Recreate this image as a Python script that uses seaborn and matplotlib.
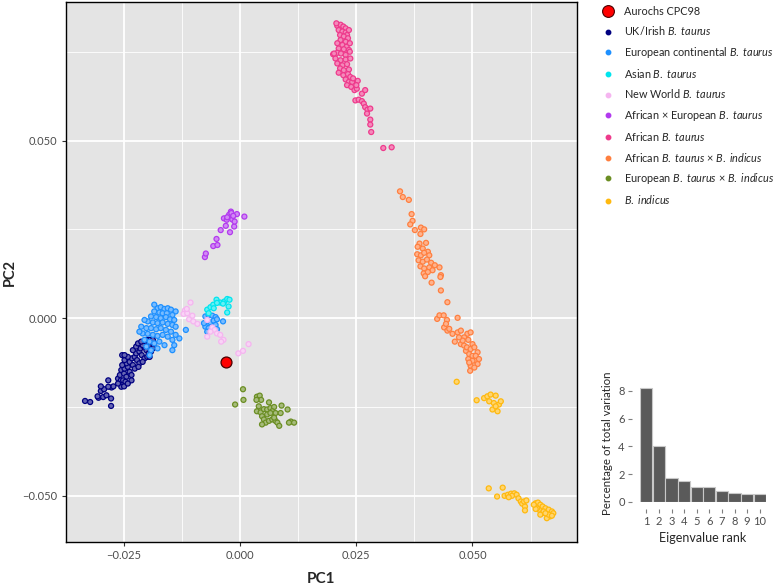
import numpy as np
import pandas as pd
import matplotlib
matplotlib.use("Agg")
import matplotlib.pyplot as plt
import seaborn as sns
from matplotlib.lines import Line2D

# ---------------- data ----------------
uk_x = [-0.0334, -0.0323, -0.0305, -0.0300, -0.0284, -0.0293, -0.0277, -0.0273, -0.0278, -0.0278,
        -0.0295, -0.0288, -0.0300, -0.0307, -0.0284,
        -0.0263, -0.0257, -0.0252, -0.0259, -0.0256, -0.0250, -0.0245, -0.0249, -0.0242, -0.0238,
        -0.0234, -0.0245, -0.0238, -0.0231, -0.0227, -0.0233, -0.0227, -0.0222, -0.0217, -0.0224,
        -0.0217, -0.0212, -0.0206, -0.0215, -0.0207, -0.0202, -0.0197, -0.0206, -0.0199, -0.0193,
        -0.0188, -0.0195, -0.0190, -0.0185, -0.0231, -0.0224, -0.0254, -0.0249, -0.0242, -0.0252,
        -0.0247, -0.0256, -0.0250, -0.0263, -0.0234, -0.0242, -0.0254, -0.0219, -0.0210, -0.0200,
        -0.0192, -0.0188, -0.0202, -0.0210, -0.0220, -0.0213, -0.0195, -0.0249]
uk_y = [-0.0233, -0.0236, -0.0224, -0.0205, -0.0175, -0.0200, -0.0195, -0.0192, -0.0226, -0.0247,
        -0.0222, -0.0217, -0.0192, -0.0220, -0.0193,
        -0.0170, -0.0175, -0.0184, -0.0160, -0.0146, -0.0156, -0.0165, -0.0142, -0.0137, -0.0151,
        -0.0160, -0.0127, -0.0123, -0.0132, -0.0142, -0.0113, -0.0109, -0.0118, -0.0127, -0.0099,
        -0.0094, -0.0104, -0.0113, -0.0085, -0.0080, -0.0090, -0.0099, -0.0071, -0.0066, -0.0076,
        -0.0085, -0.0061, -0.0069, -0.0071, -0.0090, -0.0080, -0.0104, -0.0118, -0.0109, -0.0175,
        -0.0179, -0.0193, -0.0192, -0.0184, -0.0175, -0.0184, -0.0132, -0.0137, -0.0123, -0.0109,
        -0.0094, -0.0061, -0.0061, -0.0076, -0.0071, -0.0066, -0.0109, -0.0104]

eu_x = [-0.0178, -0.0171, -0.0163, -0.0156, -0.0149, -0.0139, -0.0185, -0.0174, -0.0167, -0.0158,
        -0.0146, -0.0192, -0.0181, -0.0171, -0.0160, -0.0151, -0.0142, -0.0199, -0.0188, -0.0178,
        -0.0167, -0.0156, -0.0146, -0.0139, -0.0213, -0.0202, -0.0192, -0.0181, -0.0171, -0.0160,
        -0.0149, -0.0139, -0.0131, -0.0210, -0.0199, -0.0188, -0.0178, -0.0167, -0.0156, -0.0146,
        -0.0206, -0.0195, -0.0185, -0.0174, -0.0163, -0.0142, -0.0202, -0.0192, -0.0178, -0.0146,
        -0.0117, -0.0217, -0.0195, -0.0206, -0.0185,
        -0.0075, -0.0068, -0.0060, -0.0053, -0.0071, -0.0064, -0.0057, -0.0050, -0.0075, -0.0068,
        -0.0060, -0.0053, -0.0071, -0.0078, -0.0037, -0.0050]
eu_y = [0.0028, 0.0031, 0.0026, 0.0028, 0.0024, 0.0019, 0.0019, 0.0016, 0.0014, 0.0014,
        0.0009, 0.0005, 0.0003, 0.0000, 0.0003, -0.0003, -0.0005, -0.0009, -0.0012, -0.0014,
        -0.0012, -0.0016, -0.0019, -0.0024, -0.0024, -0.0028, -0.0028, -0.0031, -0.0028, -0.0033,
        -0.0038, -0.0047, -0.0057, -0.0043, -0.0044, -0.0047, -0.0050, -0.0047, -0.0052, -0.0061,
        -0.0061, -0.0066, -0.0071, -0.0066, -0.0076, -0.0076, -0.0080, -0.0090, -0.0085, -0.0090,
        -0.0033, -0.0038, -0.0104, -0.0005, 0.0038,
        0.0005, 0.0009, 0.0007, 0.0003, -0.0009, -0.0012, -0.0007, -0.0003, -0.0024, -0.0028,
        -0.0024, -0.0019, -0.0038, -0.0014, -0.0009, -0.0031]

asia_x = [-0.0071, -0.0064, -0.0058, -0.0051, -0.0043, -0.0034, -0.0028, -0.0023, -0.0025, -0.0028,
          -0.0068, -0.0057, -0.0037, -0.0050]
asia_y = [0.0024, 0.0031, 0.0038, 0.0052, 0.0044, 0.0047, 0.0054, 0.0052, 0.0033, 0.0016,
          0.0014, 0.0028, 0.0041, 0.0043]

nw_x = [-0.0107, -0.0119, -0.0122, -0.0114, -0.0110, -0.0101, -0.0092, -0.0071, -0.0060, -0.0055,
        -0.0050, -0.0043, -0.0036, -0.0041, -0.0071, -0.0004, 0.0006, 0.0018, -0.0064, -0.0103,
        -0.0115]
nw_y = [0.0044, 0.0022, 0.0012, 0.0014, -0.0003, -0.0009, -0.0016, -0.0005, -0.0026, -0.0033,
        -0.0043, -0.0047, -0.0061, -0.0066, -0.0052, -0.0099, -0.0092, -0.0073, -0.0038, 0.0007,
        0.0026]

afeu_x = [-0.0076, -0.0074, -0.0058, -0.0049, -0.0051, -0.0042, -0.0022, -0.0031, -0.0013, 0.0009,
          -0.0007, -0.0020, -0.0024, -0.0035, -0.0029, -0.0017, -0.0019, -0.0028, -0.0015, -0.0012]
afeu_y = [0.0172, 0.0182, 0.0203, 0.0206, 0.0223, 0.0248, 0.0242, 0.0260, 0.0258, 0.0286,
          0.0293, 0.0300, 0.0291, 0.0281, 0.0277, 0.0278, 0.0296, 0.0284, 0.0288, 0.0272]

af_x = [0.0209, 0.0216, 0.0222, 0.0227, 0.0212, 0.0220, 0.0227, 0.0230, 0.0215, 0.0223,
        0.0232, 0.0216, 0.0227, 0.0209, 0.0220, 0.0229, 0.0212, 0.0223, 0.0234, 0.0200,
        0.0209, 0.0217, 0.0227, 0.0236, 0.0205, 0.0216, 0.0227, 0.0237, 0.0209, 0.0220,
        0.0230, 0.0215, 0.0223, 0.0234, 0.0212, 0.0222, 0.0232, 0.0237, 0.0227, 0.0234,
        0.0241, 0.0230, 0.0239, 0.0246, 0.0251, 0.0253, 0.0262, 0.0269, 0.0248, 0.0255,
        0.0262, 0.0266, 0.0269, 0.0274, 0.0280, 0.0273, 0.0280, 0.0280, 0.0282, 0.0308,
        0.0326, 0.0207, 0.0234, 0.0236, 0.0202, 0.0243, 0.0250]
af_y = [0.0823, 0.0826, 0.0821, 0.0816, 0.0811, 0.0807, 0.0804, 0.0797, 0.0797, 0.0793,
        0.0788, 0.0783, 0.0778, 0.0774, 0.0769, 0.0764, 0.0759, 0.0757, 0.0755, 0.0743,
        0.0747, 0.0745, 0.0741, 0.0750, 0.0731, 0.0726, 0.0728, 0.0731, 0.0717, 0.0712,
        0.0715, 0.0703, 0.0698, 0.0700, 0.0691, 0.0684, 0.0687, 0.0679, 0.0672, 0.0665,
        0.0665, 0.0656, 0.0651, 0.0642, 0.0646, 0.0668, 0.0632, 0.0642, 0.0613, 0.0615,
        0.0611, 0.0604, 0.0594, 0.0587, 0.0590, 0.0576, 0.0559, 0.0545, 0.0524, 0.0479,
        0.0481, 0.0830, 0.0811, 0.0774, 0.0745, 0.0675, 0.0656]

afin_x = [0.0344, 0.0350, 0.0363, 0.0369, 0.0371, 0.0366, 0.0376, 0.0389, 0.0396, 0.0388,
          0.0386, 0.0400, 0.0382, 0.0393, 0.0404, 0.0381, 0.0389, 0.0396, 0.0407, 0.0384,
          0.0393, 0.0402, 0.0411, 0.0419, 0.0388, 0.0396, 0.0407, 0.0414, 0.0395, 0.0404,
          0.0398, 0.0429, 0.0432, 0.0431, 0.0412, 0.0432, 0.0446, 0.0424, 0.0429, 0.0438,
          0.0445, 0.0468, 0.0439, 0.0446, 0.0457, 0.0468, 0.0475, 0.0489, 0.0496, 0.0462,
          0.0475, 0.0482, 0.0486, 0.0493, 0.0500, 0.0511, 0.0507, 0.0511, 0.0496, 0.0495,
          0.0504, 0.0482, 0.0491, 0.0500, 0.0488, 0.0496, 0.0504, 0.0491, 0.0500, 0.0507,
          0.0514, 0.0493, 0.0450, 0.0443, 0.0479, 0.0471]
afin_y = [0.0357, 0.0341, 0.0333, 0.0293, 0.0274, 0.0264, 0.0248, 0.0255, 0.0250, 0.0237,
          0.0210, 0.0212, 0.0201, 0.0196, 0.0187, 0.0180, 0.0177, 0.0184, 0.0177, 0.0163,
          0.0159, 0.0165, 0.0156, 0.0149, 0.0146, 0.0140, 0.0143, 0.0135, 0.0126, 0.0130,
          0.0118, 0.0143, 0.0121, 0.0116, 0.0100, 0.0078, 0.0045, -0.0002, 0.0008, 0.0008,
          -0.0005, 0.0001, -0.0026, -0.0035, -0.0044, -0.0040, -0.0035, -0.0044, -0.0040, -0.0066,
          -0.0073, -0.0077, -0.0092, -0.0101, -0.0106, -0.0096, -0.0120, -0.0129, -0.0134, -0.0148,
          -0.0139, -0.0054, -0.0061, -0.0073, -0.0082, -0.0087, -0.0082, -0.0115, -0.0120, -0.0106,
          -0.0115, -0.0125, -0.0030, -0.0016, -0.0063, -0.0054]

euin_x = [0.0006, -0.0011, 0.0007, 0.0036, 0.0042, 0.0045, 0.0035, 0.0062, 0.0089, 0.0102,
          0.0036, 0.0044, 0.0051, 0.0058, 0.0065, 0.0073, 0.0069, 0.0076, 0.0087, 0.0047,
          0.0051, 0.0055, 0.0047, 0.0062, 0.0069, 0.0076, 0.0080, 0.0084, 0.0073, 0.0109,
          0.0105, 0.0116, 0.0058, 0.0040, 0.0065]
euin_y = [-0.0200, -0.0243, -0.0230, -0.0221, -0.0218, -0.0230, -0.0230, -0.0237, -0.0246, -0.0257,
          -0.0262, -0.0265, -0.0256, -0.0257, -0.0253, -0.0250, -0.0262, -0.0267, -0.0267, -0.0276,
          -0.0285, -0.0294, -0.0299, -0.0289, -0.0285, -0.0289, -0.0294, -0.0303, -0.0280, -0.0291,
          -0.0294, -0.0294, -0.0271, -0.0248, -0.0267]

ind_x = [0.0466,
         0.0509, 0.0525, 0.0532, 0.0539, 0.0550, 0.0536, 0.0546, 0.0557, 0.0561, 0.0543,
         0.0554, 0.0550,
         0.0535, 0.0565, 0.0553, 0.0569, 0.0576, 0.0583, 0.0590, 0.0595, 0.0599, 0.0604,
         0.0607, 0.0613, 0.0611, 0.0616, 0.0613, 0.0636, 0.0641, 0.0646, 0.0651, 0.0657,
         0.0664, 0.0671, 0.0674, 0.0667, 0.0660, 0.0650, 0.0643, 0.0639, 0.0653, 0.0664,
         0.0636, 0.0646, 0.0657, 0.0671, 0.0632, 0.0585, 0.0578]
ind_y = [-0.0179,
         -0.0231, -0.0225, -0.0220, -0.0215, -0.0218, -0.0234, -0.0239, -0.0243, -0.0234, -0.0257,
         -0.0262, -0.0248,
         -0.0479, -0.0477, -0.0502, -0.0500, -0.0497, -0.0494, -0.0493, -0.0497, -0.0507, -0.0516,
         -0.0522, -0.0530, -0.0516, -0.0513, -0.0541, -0.0521, -0.0519, -0.0525, -0.0530, -0.0535,
         -0.0539, -0.0544, -0.0549, -0.0558, -0.0563, -0.0549, -0.0539, -0.0535, -0.0544, -0.0553,
         -0.0537, -0.0553, -0.0549, -0.0556, -0.0525, -0.0500, -0.0504]

aurochs_x = [-0.0030]
aurochs_y = [-0.0122]

groups = ["UK/Irish", "European continental", "Asian", "New World", "African x European",
          "African", "African x indicus", "European x indicus", "indicus"]
colors = ["#000080", "#1E90FF", "#00E5EE", "#F5B5F0", "#B23AEE",
          "#EE3A8C", "#FF7F3F", "#6B8E23", "#FFB90F"]
legend_labels = [
    r"UK/Irish $\mathit{B.\ taurus}$",
    r"European continental $\mathit{B.\ taurus}$",
    r"Asian $\mathit{B.\ taurus}$",
    r"New World $\mathit{B.\ taurus}$",
    r"African × European $\mathit{B.\ taurus}$",
    r"African $\mathit{B.\ taurus}$",
    r"African $\mathit{B.\ taurus}$ × $\mathit{B.\ indicus}$",
    r"European $\mathit{B.\ taurus}$ × $\mathit{B.\ indicus}$",
    r"$\mathit{B.\ indicus}$",
]

eig_rank = [1, 2, 3, 4, 5, 6, 7, 8, 9, 10]
eig_pct = [8.2, 4.0, 1.75, 1.5, 1.05, 1.05, 0.8, 0.65, 0.6, 0.55]

x_major = [-0.025, 0.0, 0.025, 0.05]
x_minor = [-0.0375, -0.0125, 0.0125, 0.0375, 0.0625]
y_major = [-0.05, 0.0, 0.05]
y_minor = [-0.025, 0.025, 0.075]

# ---------------- style ----------------
sns.set_theme(style="ticks")
plt.rcParams["font.family"] = ["Lato", "DejaVu Sans"]
plt.rcParams["mathtext.fontset"] = "custom"
plt.rcParams["mathtext.rm"] = "Lato"
plt.rcParams["mathtext.it"] = "Lato:italic"
plt.rcParams["mathtext.bf"] = "Lato:bold"

xs_all = [uk_x, eu_x, asia_x, nw_x, afeu_x, af_x, afin_x, euin_x, ind_x]
ys_all = [uk_y, eu_y, asia_y, nw_y, afeu_y, af_y, afin_y, euin_y, ind_y]
df = pd.concat([pd.DataFrame({"PC1": xs, "PC2": ys, "group": g})
                for g, xs, ys in zip(groups, xs_all, ys_all)], ignore_index=True)

fig = plt.figure(figsize=(7.78, 5.85), dpi=100)
ax = fig.add_axes([66 / 778, 1 - 542 / 585, (577 - 66) / 778, (542 - 2) / 585])
ax.set_facecolor("#E4E4E4")

sns.scatterplot(data=df, x="PC1", y="PC2", hue="group", hue_order=groups,
                palette=dict(zip(groups, colors)), s=13, linewidth=0.9,
                legend=False, ax=ax, zorder=3)
coll = ax.collections[0]
fc = coll.get_facecolors()
coll.set_edgecolors(fc.copy())
light = fc.copy()
light[:, :3] = fc[:, :3] * 0.6 + 0.4
coll.set_facecolors(light)

sns.scatterplot(x=aurochs_x, y=aurochs_y, color="#FF0000", s=62, edgecolor="#4a0000",
                linewidth=0.9, ax=ax, zorder=5, legend=False)

ax.set_xlim(-0.0372, 0.0725)
ax.set_ylim(-0.0630, 0.0890)
ax.set_xticks(x_major)
ax.set_xticks(x_minor, minor=True)
ax.set_yticks(y_major)
ax.set_yticks(y_minor, minor=True)
ax.set_xticklabels([f"{v:.3f}".replace("-", "\u2212") for v in x_major])
ax.set_yticklabels([f"{v:.3f}".replace("-", "\u2212") for v in y_major])
ax.grid(which="major", color="white", linewidth=1.3)
ax.grid(which="minor", color="white", linewidth=0.6)
ax.set_axisbelow(True)
ax.tick_params(which="major", length=3, width=0.8, color="#333333", labelsize=8,
               labelcolor="#4D4D4D", pad=3)
ax.tick_params(which="minor", length=0)
for sp in ax.spines.values():
    sp.set_visible(True)
    sp.set_color("black")
    sp.set_linewidth(1.0)
ax.set_xlabel("PC1", fontsize=11, fontweight="bold", labelpad=8)
ax.set_ylabel("PC2", fontsize=10.5, fontweight="bold", labelpad=4)

# legend
handles = [Line2D([], [], marker="o", linestyle="", markersize=8.5, markerfacecolor="#FF0000",
                  markeredgecolor="#4a0000", markeredgewidth=0.8)]
for c in colors:
    handles.append(Line2D([], [], marker="o", linestyle="", markersize=3.2,
                          markerfacecolor=c, markeredgecolor=c))
fig.legend(handles, ["Aurochs CPC98"] + legend_labels, loc="upper left",
           bbox_to_anchor=(603 / 778, 1 - 6 / 585), frameon=False, fontsize=7.8,
           handletextpad=0.9, labelspacing=0.68, handlelength=1.0,
           borderaxespad=0, borderpad=0)

# inset scree plot
ax2 = fig.add_axes([640 / 778, 1 - 502 / 585, 126 / 778, 118 / 585])
ax2.set_facecolor("white")
sns.barplot(x=eig_rank, y=eig_pct, color="#5A5A5A", edgecolor="#C8C8C8", linewidth=0.8,
            width=0.97, saturation=1, ax=ax2)
ax2.set_xlim(-0.5, 9.5)
ax2.set_ylim(0, 8.5)
ax2.set_yticks([0, 2, 4, 6, 8])
for name in ["top", "right"]:
    ax2.spines[name].set_visible(False)
ax2.spines["left"].set_position(("outward", 6))
ax2.spines["bottom"].set_position(("outward", 5))
ax2.spines["left"].set_visible(False)
ax2.spines["bottom"].set_visible(False)
ax2.tick_params(length=3, width=0.8, color="#7F7F7F", labelsize=8, labelcolor="#4D4D4D", pad=2)
ax2.set_ylabel("Percentage of total variation", fontsize=8.3, labelpad=4)
ax2.set_xlabel("Eigenvalue rank", fontsize=9, labelpad=4)

fig.savefig("out.png", dpi=100)
